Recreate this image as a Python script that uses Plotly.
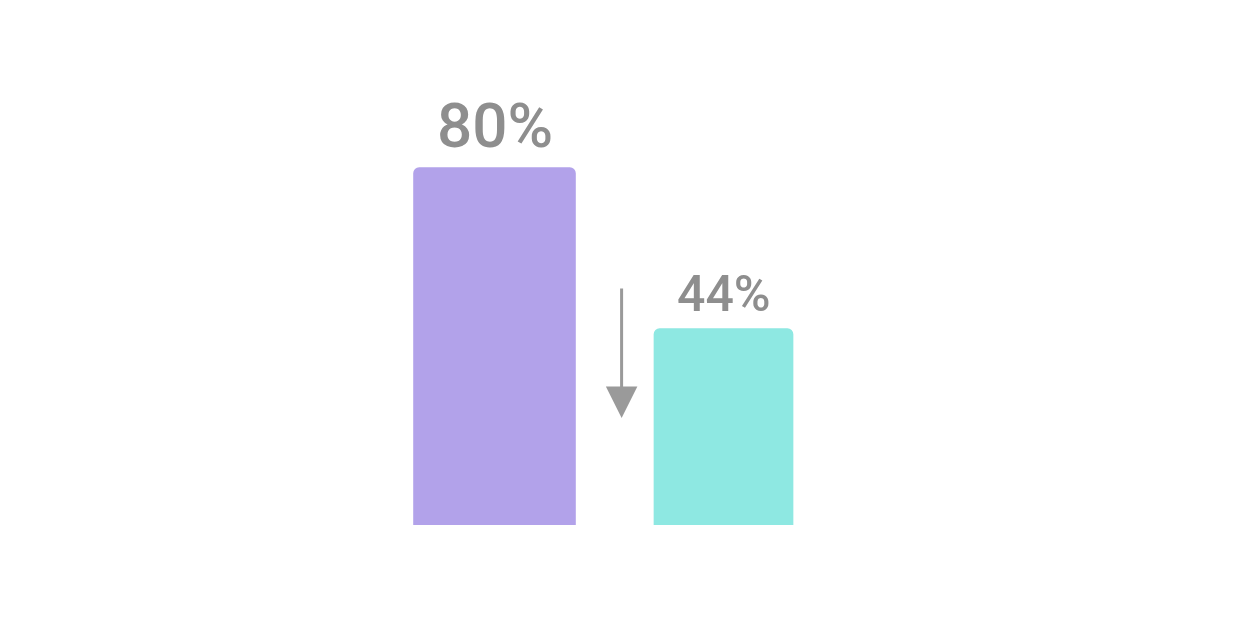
import plotly.graph_objects as go

categories = ["Before", "After"]
values = [80, 44]
labels = ["80%", "44%"]
colors = ["#b2a2ea", "#8ee8e2"]
bar_widths = [0.71, 0.61]
label_sizes = [62, 50]

fig = go.Figure()
fig.add_trace(go.Bar(
    x=categories, y=values, width=bar_widths,
    marker=dict(color=colors, line=dict(width=0)),
    hoverinfo="skip",
))

for c, v, t, s in zip(categories, values, labels, label_sizes):
    fig.add_annotation(x=c, y=v, xref="x", yref="y", text=t, showarrow=False,
                       yanchor="bottom", yshift=3,
                       font=dict(family="Roboto", size=s, color="#8e8e8e", weight=500))

# downward arrow between the bars
fig.add_annotation(x=0.555, y=0.23, xref="x", yref="paper", ax=0, ay=-131,
                   axref="pixel", ayref="pixel", text="", showarrow=True,
                   arrowhead=2, arrowsize=2.1, arrowwidth=3, arrowcolor="#9a9a9a", standoff=0)

fig.update_layout(
    width=1234, height=632,
    margin=dict(l=372, r=404, t=52, b=115),
    paper_bgcolor="#ffffff", plot_bgcolor="#ffffff",
    barcornerradius=6,
    showlegend=False,
    xaxis=dict(visible=False, range=[-0.5, 1.5]),
    yaxis=dict(visible=False, range=[0, 104]),
)
fig.write_html("out.html")
